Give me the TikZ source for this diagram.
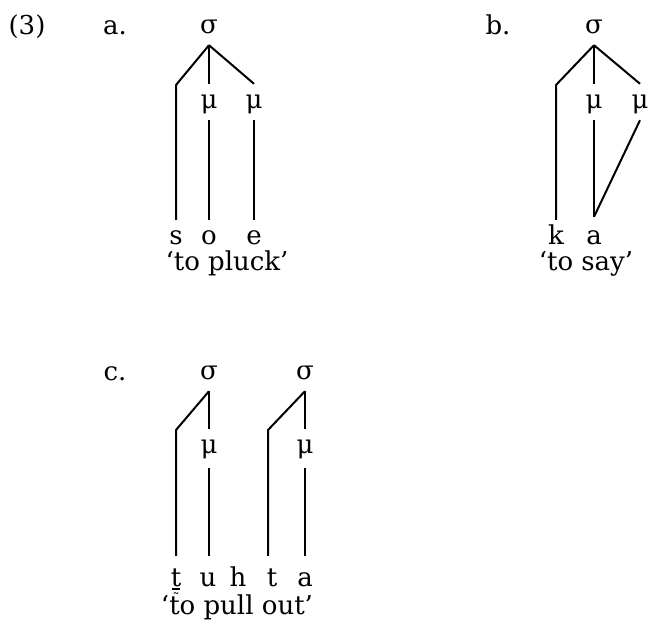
\documentclass[tikz,border=0pt]{standalone}
\usepackage{fontspec}
\setmainfont{DejaVu Serif}
\begin{document}
\begin{tikzpicture}[x=1pt,y=-1pt,
  lbl/.style={inner sep=0pt, minimum height=36pt, text height=20pt, text depth=7pt, font=\fontsize{26}{32}\selectfont},
  ln/.style={line width=2pt}]
\useasboundingbox (0,0) rectangle (650,628);
% example number
\node[lbl] (n3) at (27,28) {(3)};
% (a)
\node[lbl] (la) at (115,28) {a.};
\node[lbl] (sa) at (209,27) {σ};
\node[lbl] (ma1) at (209,102) {μ};
\node[lbl] (ma2) at (254,102) {μ};
\node[lbl] (as) at (176,238) {s};
\node[lbl] (ao) at (209,238) {o};
\node[lbl] (ae) at (254,238) {e};
\node[lbl] (ga) at (227,264) {‘to pluck’};
\coordinate (ab) at (176,85);
\draw[ln] (sa.south) -- (ab) -- (as.north);
\draw[ln] (sa.south) -- (ma1.north);
\draw[ln] (sa.south) -- (ma2.north);
\draw[ln] (ma1.south) -- (ao.north);
\draw[ln] (ma2.south) -- (ae.north);
% (b)
\node[lbl] (lb) at (498,28) {b.};
\node[lbl] (sb) at (594,27) {σ};
\node[lbl] (mb1) at (594,102) {μ};
\node[lbl] (mb2) at (640,102) {μ};
\node[lbl] (bk) at (556,238) {k};
\node[lbl] (ba) at (594,238) {a};
\node[lbl] (gb) at (586,264) {‘to say’};
\coordinate (bb) at (556,85);
\draw[ln] (sb.south) -- (bb) -- (bk.north);
\draw[ln] (sb.south) -- (mb1.north);
\draw[ln] (sb.south) -- (mb2.north);
\draw[ln] (mb1.south) -- ([yshift=3pt]ba.north);
\draw[ln] (mb2.south) -- ([yshift=3pt]ba.north);
% (c)
\node[lbl] (lc) at (115,374) {c.};
\node[lbl] (sc1) at (209,373) {σ};
\node[lbl] (sc2) at (305,373) {σ};
\node[lbl] (mc1) at (209,447) {μ};
\node[lbl] (mc2) at (305,447) {μ};
\node[lbl] (ct1) at (176,580) {\ooalign{t\cr\hfil\smash{\raisebox{-3pt}{\rule{0.3em}{1.1pt}}}\hfil\cr\hfil\smash{\raisebox{-17pt}{\fontsize{14}{14}\selectfont ˜}}\hfil\cr}};
\node[lbl] (cu) at (208,580) {u};
\node[lbl] (ch) at (238,580) {h};
\node[lbl] (ct2) at (272,580) {t};
\node[lbl] (ca) at (305,580) {a};
\node[lbl] (gc) at (237,608) {‘to pull out’};
\coordinate (cb1) at (176,430);
\coordinate (cb2) at (268,430);
\draw[ln, shorten >=6pt] (sc1.south) -- (cb1) -- (ct1.north);
\draw[ln] (sc1.south) -- (mc1.north);
\draw[ln, shorten <=3pt, shorten >=6pt] (mc1.south) -- ([xshift=1pt]cu.north);
\draw[ln, shorten >=6pt] (sc2.south) -- (cb2) -- ([xshift=-4pt]ct2.north);
\draw[ln] (sc2.south) -- (mc2.north);
\draw[ln, shorten <=3pt, shorten >=6pt] (mc2.south) -- (ca.north);
\end{tikzpicture}
\end{document}
